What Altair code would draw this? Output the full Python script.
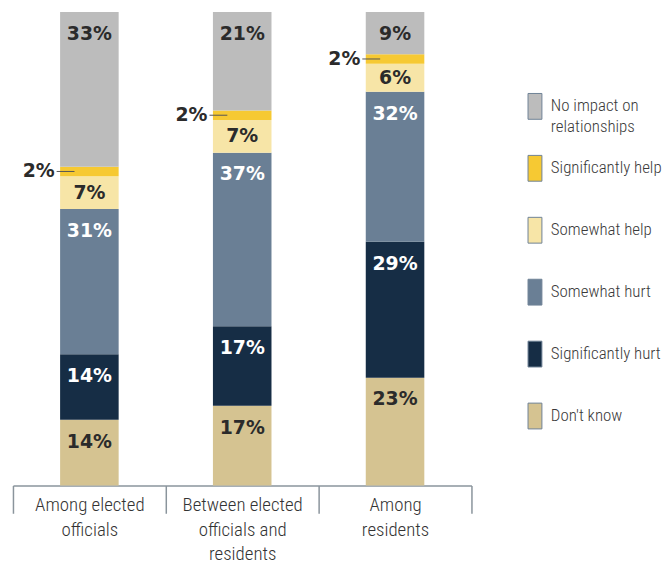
import altair as alt
import pandas as pd

groups = ["Among elected officials", "Between elected officials and residents", "Among residents"]
group_lines = {
    "Among elected officials": ["Among elected", "officials"],
    "Between elected officials and residents": ["Between elected", "officials and", "residents"],
    "Among residents": ["Among", "residents"],
}
categories = ["Don't know", "Significantly hurt", "Somewhat hurt", "Somewhat help",
              "Significantly help", "No impact on relationships"]
legend_text = {
    "No impact on relationships": "No impact on\nrelationships",
}
colors = ["#d5c391", "#162d45", "#6a7f95", "#f7e5a7", "#f6c933", "#bcbcbc"]

elected = [14, 14, 31, 7, 2, 33]
between = [17, 17, 37, 7, 2, 21]
residents = [23, 29, 32, 6, 2, 9]

rows = []
for g, vals in zip(groups, [elected, between, residents]):
    for i, (c, v) in enumerate(zip(categories, vals)):
        rows.append({"group": g, "category": c, "value": v, "order": i})
df = pd.DataFrame(rows)

COND_FONT = "Roboto Condensed, Liberation Sans Narrow, DejaVu Sans Condensed, sans-serif"
NUM_FONT = "DejaVu Sans"

label_expr = ""
for g in groups:
    label_expr += f"datum.label == '{g}' ? {group_lines[g]} : "
label_expr += "''"

x_scale = alt.Scale(domain=groups, paddingInner=0, paddingOuter=0)
x_enc = alt.X(
    "group:N", title=None, scale=x_scale,
    axis=alt.Axis(labelAngle=0, tickBand="extent", tickSize=28, tickColor="#8a949c",
                  tickWidth=1.5, domainColor="#8a949c", domainWidth=1.5,
                  labelExpr=label_expr, labelLineHeight=25, labelPadding=-18,
                  labelFontSize=19, labelFont=COND_FONT, labelColor="#333333",
                  labelBaseline="top", labelFontWeight=300),
)
x_plain = alt.X("group:N", scale=x_scale)

base = alt.Chart(df).transform_stack(
    stack="value", groupby=["group"], as_=["y0", "y1"],
    sort=[alt.SortField("order")], offset="normalize"
).transform_calculate(
    mid="(datum.y0 + datum.y1) / 2",
    label="datum.value + '%'",
)

y_scale = alt.Scale(domain=[0, 1])

bars = base.mark_bar(size=59).encode(
    x=x_enc,
    y=alt.Y("y0:Q", scale=y_scale, axis=None),
    y2="y1:Q",
    color=alt.Color("category:N", scale=alt.Scale(domain=categories, range=colors), legend=None),
)

txt_color = alt.condition(
    "datum.category == 'Somewhat hurt' || datum.category == 'Significantly hurt'",
    alt.value("white"), alt.value("#2b2b2b"))

big = base.transform_filter("datum.value >= 9").mark_text(
    baseline="middle", dy=22, fontSize=19, font=NUM_FONT, fontWeight="bold"
).encode(x=x_plain, y=alt.Y("y1:Q", scale=y_scale), text="label:N", color=txt_color)

small = base.transform_filter("datum.value > 2 && datum.value < 9").mark_text(
    baseline="middle", fontSize=19, font=NUM_FONT, fontWeight="bold"
).encode(x=x_plain, y=alt.Y("mid:Q", scale=y_scale), text="label:N", color=txt_color)

side = base.transform_filter("datum.value <= 2").mark_text(
    baseline="middle", align="right", dx=-35, fontSize=19, font=NUM_FONT, fontWeight="bold",
    color="#2b2b2b"
).encode(x=x_plain, y=alt.Y("mid:Q", scale=y_scale), text="label:N")

leader = base.transform_filter("datum.value <= 2").mark_tick(
    orient="horizontal", size=18, thickness=1, xOffset=-24, color="#555555", opacity=1
).encode(x=x_plain, y=alt.Y("mid:Q", scale=y_scale))

main = alt.layer(bars, leader, big, small, side).properties(width=462, height=477)

legend_order = list(reversed(categories))
leg_df = pd.DataFrame({
    "category": legend_order,
    "text": [legend_text.get(c, c) for c in legend_order],
})
leg_y = alt.Y("category:N", sort=legend_order, axis=None,
              scale=alt.Scale(range=[95, 407], padding=0))
leg_sym = alt.Chart(leg_df).mark_point(
    shape="M-0.538,-1H0.538V1H-0.538Z", size=676, filled=True, opacity=1,
    stroke="#6f8296", strokeWidth=1
).encode(
    x=alt.value(7), y=leg_y,
    fill=alt.Color("category:N", scale=alt.Scale(domain=categories, range=colors), legend=None),
)
leg_txt = alt.Chart(leg_df).mark_text(
    align="left", baseline="middle", fontSize=17, font=COND_FONT, fontWeight=300,
    color="#3a3a3a", lineBreak="\n", lineHeight=21
).encode(x=alt.value(23), y=leg_y, text="text:N")
legend = alt.layer(leg_sym, leg_txt).properties(width=100, height=477)

chart = alt.hconcat(main, legend, spacing=54).properties(
    padding={"left": 4, "top": 2, "right": 0, "bottom": 0}
).configure_view(stroke=None)

chart.save("out.html", embed_options={"renderer": "svg", "actions": False})
